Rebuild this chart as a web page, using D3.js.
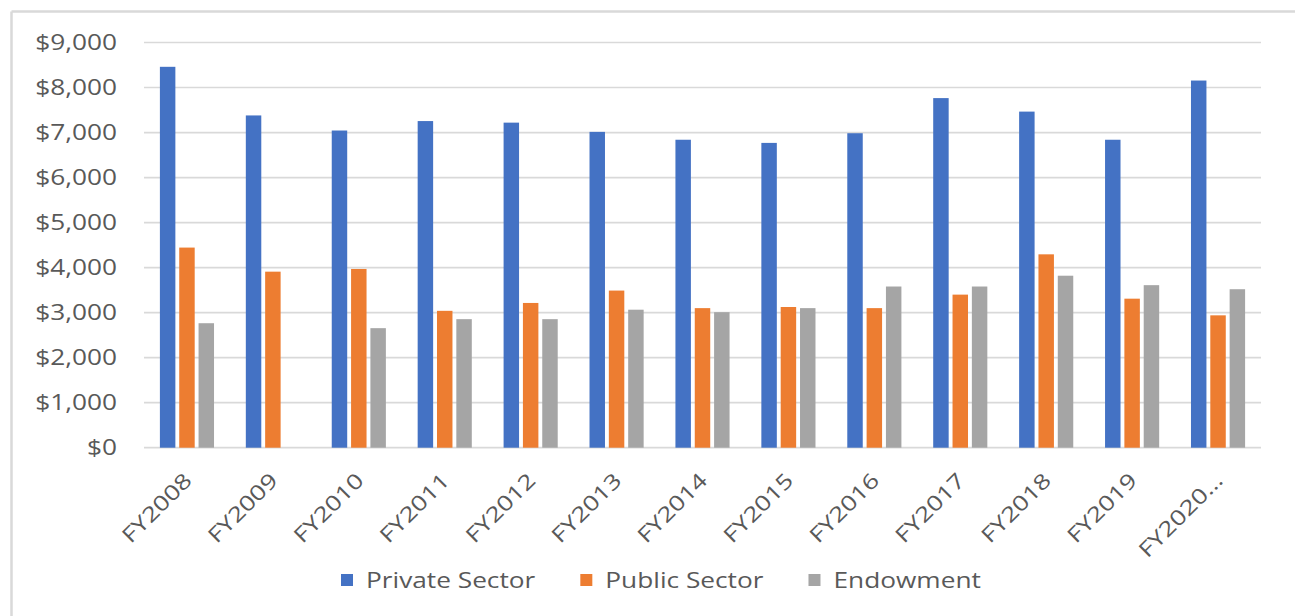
<!DOCTYPE html>
<html>
<head>
<meta charset="utf-8">
<script src="https://cdn.jsdelivr.net/npm/d3@7"></script>
<style>
  html, body { margin: 0; padding: 0; background: #fff; }
  svg { display: block; }
  text { font-family: "Open Sans", "Noto Sans", sans-serif; fill: #595959; }
</style>
</head>
<body>
<svg id="chart" width="1295" height="616"></svg>
<script>
const categories = ["FY2008","FY2009","FY2010","FY2011","FY2012","FY2013","FY2014","FY2015","FY2016","FY2017","FY2018","FY2019","FY2020\u2026"];
const seriesNames = ["Private Sector","Public Sector","Endowment"];
const privateSector = [8460,7380,7045,7255,7220,7015,6840,6770,6985,7765,7465,6840,8155];
const publicSector  = [4445,3910,3970,3040,3215,3490,3100,3125,3100,3400,4295,3310,2940];
const endowment     = [2765,0,2655,2855,2855,3065,3010,3100,3580,3580,3820,3610,3520];
const yTicks = [0,1000,2000,3000,4000,5000,6000,7000,8000,9000];
const colors = ["#4472C4","#ED7D31","#A5A5A5"];

const seriesValues = [privateSector, publicSector, endowment];
const SX = 1.25; // horizontal text stretch

const svg = d3.select("#chart");

// outer chart border (top and left visible)
svg.append("line").attr("x1",11.5).attr("x2",1295).attr("y1",11.5).attr("y2",11.5)
  .attr("stroke","#d9d9d9").attr("stroke-width",2.5);
svg.append("line").attr("x1",11.5).attr("x2",11.5).attr("y1",11.5).attr("y2",616)
  .attr("stroke","#d9d9d9").attr("stroke-width",2.5);

const plotLeft = 144, plotRight = 1261, plotTop = 42.5, plotBottom = 447.7;

const x0 = d3.scaleBand().domain(categories).range([plotLeft, plotRight])
  .paddingInner(0.37).paddingOuter(0.185);
const x1 = d3.scaleBand().domain(seriesNames).range([0, x0.bandwidth()])
  .paddingInner(0.2).paddingOuter(0);
const y = d3.scaleLinear().domain([0, 9000]).range([plotBottom, plotTop]);

// gridlines
svg.append("g").selectAll("line").data(yTicks).join("line")
  .attr("x1", plotLeft).attr("x2", plotRight)
  .attr("y1", d => y(d)).attr("y2", d => y(d))
  .attr("stroke", "#d9d9d9").attr("stroke-width", 1.7);

// y labels
const fmt = d => "$" + d3.format(",")(d);
svg.append("g").selectAll("text").data(yTicks).join("text")
  .attr("transform", d => `translate(117,${y(d)}) scale(${SX},1)`)
  .attr("text-anchor", "end").attr("dy", "0.36em")
  .style("font-size", "21px")
  .text(fmt);

// bars
const groups = svg.append("g").selectAll("g").data(categories).join("g")
  .attr("transform", d => `translate(${x0(d)},0)`);
groups.selectAll("rect")
  .data((d, i) => seriesNames.map((s, k) => ({s, k, v: seriesValues[k][i]})))
  .join("rect")
  .filter(d => d.v > 0)
  .attr("x", d => x1(d.s))
  .attr("width", x1.bandwidth())
  .attr("y", d => y(d.v))
  .attr("height", d => y(0) - y(d.v))
  .attr("fill", d => colors[d.k]);

// x labels
svg.append("g").selectAll("text").data(categories).join("text")
  .attr("transform", d => `translate(${x0(d) + x0.bandwidth()/2 + 1},${plotBottom + 29}) rotate(-45) scale(1.25,1)`)
  .attr("text-anchor", "end").attr("dy", "0.35em")
  .style("font-size", "21px")
  .text(d => d);

// legend
const legend = svg.append("g");
let lx = 341;
seriesNames.forEach((s, k) => {
  legend.append("rect").attr("x", lx).attr("y", 574).attr("width", 12).attr("height", 12).attr("fill", colors[k]);
  const t = legend.append("text")
    .attr("transform", `translate(${lx + 25},580) scale(${SX},1)`)
    .attr("dy", "0.36em").style("font-size", "21px").text(s);
  const w = t.node().getComputedTextLength() * SX;
  lx += 25 + w + 45;
});
</script>
</body>
</html>
